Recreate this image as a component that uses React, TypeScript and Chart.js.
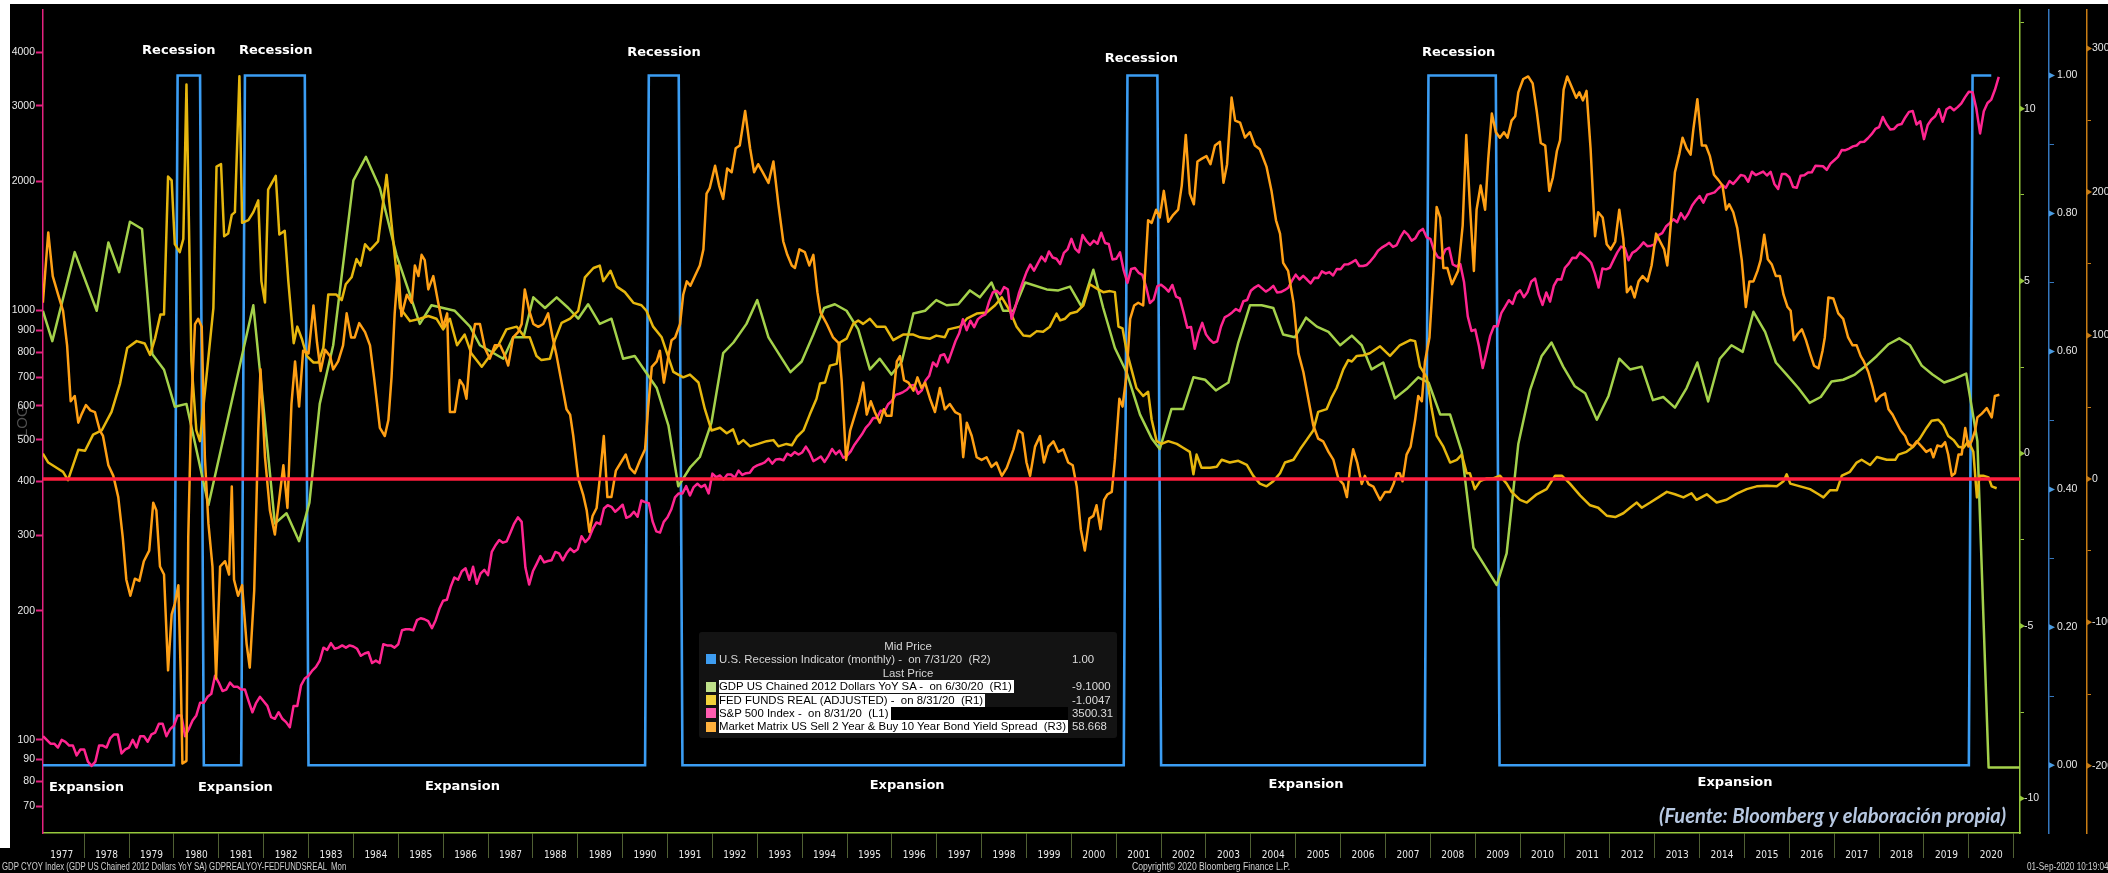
import React, { useEffect, useRef } from 'react';
import { Chart, registerables } from 'chart.js';

Chart.register(...registerables);

// ---------- axis ranges ----------
const X_MIN = 1977.083;
const X_MAX = 2021.14;
const L_MIN = 60.7;
const L_MAX = 5030;
const R1_MIN = -11.0;
const R1_MAX = 12.88;
const R2_MIN = -0.0981;
const R2_MAX = 1.0959;
const R3_MIN = -246.9;
const R3_MAX = 327.4;

// ---------- tick labels ----------
const yearLabels = [1977, 1978, 1979, 1980, 1981, 1982, 1983, 1984, 1985, 1986, 1987, 1988, 1989, 1990, 1991, 1992, 1993, 1994, 1995, 1996, 1997, 1998, 1999, 2000, 2001, 2002, 2003, 2004, 2005, 2006, 2007, 2008, 2009, 2010, 2011, 2012, 2013, 2014, 2015, 2016, 2017, 2018, 2019, 2020];
const leftTicks = [70, 80, 90, 100, 200, 300, 400, 500, 600, 700, 800, 900, 1000, 2000, 3000, 4000];
const r1Ticks = [-10, -7.5, -5, -2.5, 0, 2.5, 5, 7.5, 10, 12.5];
const r1Labels = [-10, -5, 0, 5, 10];
const r2Ticks = [0, 0.1, 0.2, 0.3, 0.4, 0.5, 0.6, 0.7, 0.8, 0.9, 1.0];
const r2Labels = [0, 0.2, 0.4, 0.6, 0.8, 1.0];
const r3Ticks = [-200, -150, -100, -50, 0, 50, 100, 150, 200, 250, 300];
const r3Labels = [-200, -100, 0, 100, 200, 300];

// ---------- series ----------
// U.S. Recession Indicator (R2): change points [decimal year], values 0/1
const recessionDates = [1977.083, 1980.0, 1980.083, 1980.583, 1980.667, 1981.5, 1981.583, 1982.917, 1983.0, 1990.5, 1990.583, 1991.25, 1991.333, 2001.167, 2001.25, 2001.917, 2002.0, 2007.875, 2007.958, 2009.458, 2009.542, 2020.0, 2020.083, 2020.5];
const recessionValues = [0, 0, 1, 1, 0, 0, 1, 1, 0, 0, 1, 1, 0, 0, 1, 1, 0, 0, 1, 1, 0, 0, 1, 1];

// GDP US Chained 2012 Dollars YoY SA (R1): [decimal year, %]
const gdpYoY: [number, number][] = [
  [1977.08, 4.14], [1977.29, 3.26], [1977.79, 5.84], [1978.28, 4.14], [1978.54, 6.12], [1978.78, 5.26], [1979.02, 6.72], [1979.29, 6.51],
  [1979.52, 2.88], [1979.78, 2.43], [1980.02, 1.36], [1980.28, 1.44], [1980.77, -1.49], [1981.77, 4.3], [1981.92, 2.36], [1982.25, -2.03],
  [1982.51, -1.73], [1982.79, -2.54], [1983.02, -1.42], [1983.25, 1.44], [1983.55, 3.14], [1984.0, 7.92], [1984.28, 8.6], [1984.59, 7.7],
  [1984.96, 5.76], [1985.48, 3.76], [1985.74, 4.3], [1986.26, 4.14], [1986.6, 3.68], [1986.82, 3.14], [1987.34, 2.75], [1987.56, 3.37],
  [1987.79, 3.37], [1988.01, 4.53], [1988.27, 4.22], [1988.53, 4.53], [1988.79, 4.22], [1989.01, 3.91], [1989.23, 4.33], [1989.49, 3.76],
  [1989.75, 3.91], [1990.01, 2.75], [1990.27, 2.83], [1990.76, 1.9], [1991.02, 0.82], [1991.24, -0.95], [1991.5, -0.41], [1991.72, -0.1],
  [1991.98, 0.9], [1992.24, 2.91], [1992.47, 3.22], [1992.76, 3.76], [1993.0, 4.45], [1993.25, 3.37], [1993.51, 2.83], [1993.74, 2.36],
  [1993.99, 2.67], [1994.25, 3.45], [1994.49, 4.22], [1994.73, 4.33], [1994.99, 4.14], [1995.25, 3.6], [1995.51, 2.44], [1995.73, 2.75],
  [1995.99, 2.29], [1996.22, 2.67], [1996.48, 4.06], [1996.74, 4.14], [1996.99, 4.45], [1997.22, 4.3], [1997.48, 4.33], [1997.74, 4.73],
  [1997.96, 4.53], [1998.22, 4.96], [1998.48, 4.14], [1998.71, 4.14], [1998.97, 4.96], [1999.45, 4.76], [1999.71, 4.73], [1999.97, 4.84],
  [2000.23, 4.25], [2000.49, 5.33], [2000.71, 4.22], [2000.97, 3.06], [2001.23, 2.36], [2001.53, 1.13], [2001.79, 0.44], [2001.97, 0.13],
  [2002.23, 1.29], [2002.49, 1.29], [2002.72, 2.21], [2002.98, 2.14], [2003.22, 1.83], [2003.5, 2.06], [2003.72, 3.22], [2003.98, 4.3],
  [2004.24, 4.3], [2004.5, 4.22], [2004.72, 3.45], [2004.98, 3.37], [2005.23, 3.94], [2005.47, 3.68], [2005.73, 3.53], [2005.99, 3.14],
  [2006.25, 3.42], [2006.47, 3.14], [2006.69, 2.44], [2006.95, 2.64], [2007.21, 1.6], [2007.47, 1.87], [2007.73, 2.21], [2007.96, 2.06],
  [2008.22, 1.13], [2008.44, 1.13], [2008.7, 0.05], [2008.96, -2.73], [2009.22, -3.27], [2009.48, -3.81], [2009.7, -2.89], [2009.96, 0.28],
  [2010.22, 1.83], [2010.48, 2.83], [2010.7, 3.22], [2010.96, 2.52], [2011.22, 1.95], [2011.45, 1.75], [2011.71, 0.98], [2011.97, 1.67],
  [2012.21, 2.75], [2012.45, 2.44], [2012.71, 2.52], [2012.96, 1.55], [2013.19, 1.64], [2013.45, 1.33], [2013.71, 1.9], [2013.95, 2.64],
  [2014.19, 1.51], [2014.45, 2.75], [2014.71, 3.14], [2014.96, 2.95], [2015.2, 4.11], [2015.46, 3.53], [2015.7, 2.64], [2015.94, 2.29],
  [2016.2, 1.9], [2016.45, 1.47], [2016.7, 1.64], [2016.94, 2.09], [2017.2, 2.14], [2017.46, 2.29], [2017.71, 2.55], [2017.95, 2.83],
  [2018.21, 3.17], [2018.45, 3.34], [2018.69, 3.14], [2018.95, 2.55], [2019.19, 2.29], [2019.45, 2.06], [2019.69, 2.17], [2019.94, 2.32],
  [2020.19, 0.36], [2020.44, -9.1], [2021.14, -9.1],
];

// FED FUNDS REAL (ADJUSTED) (R1): [decimal year, %]
const fedFundsReal: [number, number][] = [
  [1977.08, 0.0], [1977.2, -0.26], [1977.42, -0.44], [1977.53, -0.53], [1977.64, -0.77], [1977.87, 0.11], [1978.02, 0.08], [1978.2, 0.55],
  [1978.39, 0.67], [1978.61, 1.21], [1978.8, 2.03], [1978.96, 3.06], [1979.17, 3.26], [1979.35, 3.19], [1979.47, 2.86], [1979.58, 3.34],
  [1979.7, 4.03], [1979.78, 4.03], [1979.87, 8.03], [1979.95, 7.92], [1980.02, 6.07], [1980.13, 5.84], [1980.21, 6.22], [1980.28, 10.7],
  [1980.39, 2.67], [1980.5, 0.67], [1980.58, 0.36], [1980.88, 4.22], [1980.95, 8.32], [1981.05, 8.39], [1981.12, 6.3], [1981.21, 6.38],
  [1981.29, 6.92], [1981.36, 7.0], [1981.46, 10.94], [1981.52, 6.69], [1981.66, 6.77], [1981.77, 7.0], [1981.88, 7.34], [1981.95, 5.0],
  [1982.03, 4.38], [1982.1, 7.65], [1982.27, 8.05], [1982.35, 6.35], [1982.47, 6.46], [1982.55, 5.0], [1982.67, 3.2], [1982.75, 3.68],
  [1982.85, 3.33], [1982.96, 2.83], [1983.11, 2.64], [1983.22, 2.64], [1983.33, 3.06], [1983.44, 4.61], [1983.62, 4.61], [1983.74, 4.45],
  [1983.83, 4.91], [1983.96, 5.11], [1984.07, 5.64], [1984.16, 5.45], [1984.26, 6.07], [1984.37, 5.9], [1984.55, 6.15], [1984.74, 8.08],
  [1985.04, 4.22], [1985.26, 3.84], [1985.48, 3.91], [1985.67, 3.99], [1985.85, 3.91], [1986.0, 3.6], [1986.15, 3.91], [1986.31, 3.14],
  [1986.48, 3.45], [1986.63, 2.9], [1986.86, 2.52], [1987.04, 2.83], [1987.23, 3.14], [1987.41, 3.6], [1987.64, 3.68], [1987.82, 3.37],
  [1987.93, 3.37], [1988.08, 2.83], [1988.19, 2.71], [1988.38, 2.75], [1988.49, 3.29], [1988.64, 3.79], [1988.83, 3.91], [1989.01, 4.14],
  [1989.16, 5.11], [1989.35, 5.38], [1989.49, 5.45], [1989.57, 5.0], [1989.73, 5.3], [1989.87, 4.84], [1990.05, 4.68], [1990.24, 4.37],
  [1990.42, 4.3], [1990.53, 4.14], [1990.68, 3.68], [1990.87, 3.37], [1991.13, 2.37], [1991.35, 2.21], [1991.5, 2.29], [1991.69, 2.06],
  [1991.83, 1.3], [1991.98, 0.67], [1992.17, 0.75], [1992.32, 0.59], [1992.46, 0.7], [1992.58, 0.28], [1992.69, 0.39], [1992.84, 0.21],
  [1993.02, 0.28], [1993.21, 0.36], [1993.36, 0.39], [1993.47, 0.21], [1993.65, 0.28], [1993.77, 0.24], [1993.88, 0.48], [1994.03, 0.67],
  [1994.17, 1.13], [1994.32, 1.59], [1994.4, 2.03], [1994.51, 2.06], [1994.62, 2.55], [1994.77, 2.6], [1994.84, 3.22], [1994.99, 3.33],
  [1995.14, 3.76], [1995.25, 3.86], [1995.36, 3.76], [1995.51, 3.91], [1995.66, 3.68], [1995.85, 3.68], [1996.03, 3.29], [1996.25, 3.45],
  [1996.48, 3.45], [1996.63, 3.37], [1996.85, 3.33], [1996.99, 3.42], [1997.18, 3.37], [1997.26, 3.6], [1997.52, 3.68], [1997.67, 3.91],
  [1997.89, 4.06], [1998.11, 4.09], [1998.3, 4.3], [1998.45, 4.53], [1998.63, 4.14], [1998.78, 3.68], [1998.93, 3.42], [1999.08, 3.4],
  [1999.23, 3.55], [1999.37, 3.53], [1999.52, 3.68], [1999.67, 4.06], [1999.75, 3.86], [1999.86, 3.91], [1999.97, 4.06], [2000.12, 4.11],
  [2000.27, 4.3], [2000.41, 4.91], [2000.56, 4.79], [2000.71, 4.68], [2000.86, 4.71], [2000.97, 4.68], [2001.05, 3.68], [2001.14, 3.63],
  [2001.23, 2.98], [2001.34, 2.44], [2001.45, 1.9], [2001.6, 1.67], [2001.71, 1.79], [2001.79, 0.98], [2001.9, 0.36], [2002.01, 0.28],
  [2002.16, 0.36], [2002.35, 0.28], [2002.49, 0.17], [2002.64, 0.05], [2002.72, -0.6], [2002.79, -0.03], [2002.9, -0.41], [2003.09, -0.41],
  [2003.24, -0.38], [2003.35, -0.18], [2003.53, -0.26], [2003.72, -0.21], [2003.91, -0.33], [2004.05, -0.64], [2004.2, -0.87], [2004.35, -0.95],
  [2004.5, -0.8], [2004.65, -0.57], [2004.76, -0.26], [2004.95, -0.18], [2005.1, 0.13], [2005.24, 0.39], [2005.39, 0.67], [2005.5, 1.21],
  [2005.69, 1.29], [2005.8, 1.63], [2005.91, 1.9], [2006.06, 2.44], [2006.17, 2.71], [2006.25, 2.67], [2006.36, 2.83], [2006.51, 2.85],
  [2006.65, 2.91], [2006.88, 3.11], [2007.1, 2.83], [2007.32, 3.14], [2007.55, 3.29], [2007.66, 3.26], [2007.77, 2.52], [2007.92, 2.21],
  [2008.03, 1.29], [2008.14, 0.52], [2008.29, 0.2], [2008.44, -0.26], [2008.59, -0.18], [2008.7, -0.03], [2008.81, -0.57], [2008.88, -0.57],
  [2008.99, -1.03], [2009.11, -0.8], [2009.26, -0.72], [2009.4, -0.72], [2009.55, -0.64], [2009.7, -0.87], [2009.81, -1.11], [2010.0, -1.34],
  [2010.15, -1.42], [2010.37, -1.18], [2010.59, -1.03], [2010.78, -0.64], [2010.93, -0.64], [2011.11, -0.87], [2011.34, -1.22], [2011.56, -1.5],
  [2011.74, -1.57], [2011.93, -1.8], [2012.12, -1.84], [2012.3, -1.73], [2012.45, -1.57], [2012.6, -1.42], [2012.71, -1.57], [2012.9, -1.42],
  [2013.08, -1.27], [2013.27, -1.11], [2013.45, -1.18], [2013.64, -1.27], [2013.82, -1.15], [2013.93, -1.34], [2014.16, -1.18], [2014.38, -1.42],
  [2014.6, -1.34], [2014.83, -1.16], [2015.05, -1.03], [2015.27, -0.95], [2015.5, -0.93], [2015.72, -0.95], [2015.87, -0.8], [2015.94, -0.6],
  [2016.02, -0.87], [2016.24, -0.95], [2016.46, -1.03], [2016.65, -1.18], [2016.76, -1.27], [2016.91, -1.06], [2017.06, -1.06], [2017.17, -0.64],
  [2017.35, -0.53], [2017.5, -0.26], [2017.61, -0.18], [2017.8, -0.33], [2017.95, -0.1], [2018.17, -0.18], [2018.36, -0.18], [2018.43, -0.03],
  [2018.61, 0.05], [2018.76, 0.2], [2018.91, 0.44], [2019.06, 0.75], [2019.17, 0.95], [2019.32, 0.98], [2019.43, 0.82], [2019.54, 0.51],
  [2019.66, 0.39], [2019.77, 0.2], [2019.88, 0.17], [2019.99, 0.36], [2020.1, 0.05], [2020.18, -1.27], [2020.24, -0.64], [2020.32, -0.64],
  [2020.44, -0.69], [2020.51, -0.95], [2020.62, -1.0047],
];

// S&P 500 Index (L1): month-end closes starting Jan 1977
const spxStartYear = 1977;
const spxMonthly = [
  102, 100, 98, 98, 96, 100, 99, 97, 97, 92, 95, 95,
  89, 87, 89, 97, 97, 96, 101, 103, 103, 93, 95, 96,
  100, 96, 102, 102, 99, 103, 104, 109, 109, 102, 106, 108,
  114, 114, 102, 106, 111, 114, 122, 122, 126, 128, 141, 136,
  130, 131, 136, 133, 133, 131, 131, 123, 116, 122, 126, 123,
  120, 113, 112, 116, 112, 110, 107, 120, 120, 134, 139, 141,
  145, 148, 153, 164, 162, 168, 163, 164, 166, 164, 166, 165,
  163, 157, 159, 160, 151, 153, 151, 167, 166, 166, 164, 167,
  180, 181, 181, 180, 190, 192, 191, 189, 182, 190, 202, 211,
  212, 227, 239, 236, 247, 251, 236, 253, 231, 244, 249, 242,
  274, 284, 292, 288, 290, 304, 319, 330, 322, 252, 230, 247,
  257, 268, 259, 261, 262, 274, 272, 262, 272, 279, 274, 278,
  298, 289, 295, 310, 321, 318, 346, 352, 349, 340, 346, 353,
  329, 332, 340, 331, 361, 358, 356, 323, 306, 304, 322, 330,
  344, 367, 375, 375, 390, 371, 388, 395, 388, 393, 375, 417,
  409, 413, 404, 415, 415, 408, 424, 414, 418, 419, 431, 436,
  439, 443, 452, 440, 450, 451, 448, 464, 459, 468, 462, 467,
  482, 467, 446, 451, 457, 444, 458, 476, 463, 472, 454, 459,
  470, 487, 501, 515, 533, 545, 562, 562, 584, 582, 605, 616,
  636, 640, 646, 654, 669, 671, 640, 652, 687, 705, 757, 741,
  786, 791, 757, 801, 848, 885, 954, 900, 947, 915, 955, 970,
  980, 1049, 1102, 1112, 1091, 1134, 1121, 957, 1017, 1099, 1164, 1229,
  1280, 1238, 1286, 1335, 1302, 1373, 1329, 1320, 1283, 1363, 1389, 1469,
  1394, 1366, 1499, 1452, 1421, 1455, 1431, 1518, 1437, 1429, 1315, 1320,
  1366, 1240, 1160, 1250, 1256, 1224, 1211, 1134, 1041, 1060, 1140, 1148,
  1130, 1107, 1147, 1077, 1067, 990, 912, 916, 815, 886, 936, 880,
  856, 841, 848, 917, 964, 975, 990, 1008, 996, 1051, 1058, 1112,
  1131, 1145, 1126, 1107, 1121, 1141, 1102, 1104, 1115, 1130, 1174, 1212,
  1181, 1204, 1181, 1157, 1192, 1191, 1234, 1220, 1229, 1207, 1250, 1248,
  1280, 1281, 1295, 1311, 1270, 1270, 1277, 1304, 1336, 1378, 1401, 1418,
  1438, 1407, 1421, 1482, 1531, 1503, 1455, 1474, 1527, 1549, 1481, 1468,
  1379, 1331, 1323, 1386, 1400, 1280, 1267, 1283, 1166, 969, 896, 903,
  826, 735, 798, 873, 919, 919, 988, 1021, 1057, 1036, 1096, 1115,
  1074, 1105, 1169, 1187, 1089, 1031, 1102, 1049, 1141, 1183, 1181, 1258,
  1286, 1327, 1326, 1364, 1345, 1321, 1292, 1219, 1131, 1253, 1247, 1258,
  1312, 1366, 1409, 1398, 1310, 1362, 1379, 1407, 1441, 1412, 1416, 1426,
  1498, 1515, 1569, 1598, 1631, 1606, 1686, 1633, 1682, 1757, 1806, 1848,
  1783, 1860, 1872, 1884, 1924, 1960, 1931, 2003, 1972, 2018, 2068, 2059,
  1995, 2105, 2068, 2086, 2107, 2063, 2104, 1972, 1920, 2079, 2080, 2044,
  1940, 1932, 2060, 2065, 2097, 2099, 2174, 2171, 2168, 2126, 2199, 2239,
  2279, 2364, 2363, 2384, 2412, 2423, 2470, 2472, 2519, 2575, 2648, 2674,
  2824, 2714, 2641, 2648, 2705, 2718, 2816, 2902, 2914, 2712, 2760, 2507,
  2704, 2785, 2834, 2946, 2752, 2942, 2980, 2927, 2977, 3038, 3141, 3231,
  3226, 2954, 2585, 2912, 3044, 3100, 3271, 3500.31,
];

// Market Matrix US Sell 2 Year & Buy 10 Year Bond Yield Spread (R3): [decimal year, bp]
const spread2s10s: [number, number][] = [
  [1977.08, 122.8], [1977.2, 171.8], [1977.3, 141.4], [1977.42, 128.4], [1977.53, 117.2], [1977.62, 93.1], [1977.7, 54.1], [1977.79, 57.8],
  [1977.87, 39.2], [1977.94, 44.8], [1978.04, 51.5], [1978.14, 47.8], [1978.24, 46.6], [1978.35, 33.7], [1978.42, 29.9], [1978.54, 9.5],
  [1978.65, 2.1], [1978.76, -12.7], [1978.86, -40.6], [1978.94, -70.3], [1979.03, -81.5], [1979.13, -69.6], [1979.23, -71.1], [1979.33, -57.4],
  [1979.45, -50], [1979.54, -16.6], [1979.61, -22.1], [1979.69, -61.1], [1979.78, -66.7], [1979.87, -133.5], [1979.95, -94.5], [1980.02, -87.1],
  [1980.1, -74.1], [1980.15, -133.5], [1980.19, -198.5], [1980.28, -196.6], [1980.32, -40.6], [1980.39, 52.2], [1980.47, 107.9], [1980.54, 111.6],
  [1980.62, 106.0], [1980.69, 15.1], [1980.77, -31.4], [1980.86, -61.1], [1980.94, -139.1], [1981.03, -61.1], [1981.14, -57.4], [1981.23, -66.7],
  [1981.29, -5.4], [1981.34, -70.3], [1981.43, -81.5], [1981.52, -74.1], [1981.62, -115], [1981.69, -131.6], [1981.79, -77.8], [1981.88, 33.7],
  [1981.93, 76.4], [1982.03, 15.1], [1982.14, -22.1], [1982.25, -38.8], [1982.36, -10.9], [1982.44, 9.5], [1982.53, -20.3], [1982.62, 52.2],
  [1982.7, 81.9], [1982.79, 50.4], [1982.88, 89.4], [1983.0, 87.5], [1983.11, 120.9], [1983.19, 94.9], [1983.27, 75.2], [1983.37, 90.0],
  [1983.48, 85.6], [1983.55, 76.3], [1983.66, 81.9], [1983.77, 93.1], [1983.85, 115.4], [1983.95, 98.6], [1984.03, 98.6], [1984.13, 108.6],
  [1984.26, 102.3], [1984.37, 93.1], [1984.46, 70.8], [1984.59, 35.5], [1984.7, 29.9], [1984.78, 41.0], [1984.85, 70.8], [1984.92, 115.4],
  [1985.0, 148.8], [1985.07, 113.5], [1985.19, 128.4], [1985.3, 122.8], [1985.37, 148.8], [1985.45, 141.4], [1985.52, 156.2], [1985.59, 152.5],
  [1985.67, 132.1], [1985.78, 141.4], [1985.89, 122.8], [1986.0, 106.0], [1986.09, 115.4], [1986.15, 46.6], [1986.26, 46.6], [1986.37, 68.9],
  [1986.45, 65.2], [1986.52, 55.9], [1986.61, 89.4], [1986.71, 108.0], [1986.82, 108.0], [1986.93, 91.2], [1987.04, 83.8], [1987.15, 93.1],
  [1987.27, 93.1], [1987.38, 85.6], [1987.45, 79.0], [1987.56, 98.6], [1987.67, 102.3], [1987.75, 108.0], [1987.82, 132.1], [1987.92, 117.2],
  [1988.01, 108.0], [1988.12, 106.0], [1988.23, 108.0], [1988.34, 115.4], [1988.44, 98.6], [1988.53, 85.6], [1988.64, 67.1], [1988.75, 48.5],
  [1988.83, 44.8], [1988.9, 29.9], [1989.01, 0.2], [1989.12, -10.9], [1989.2, -22.1], [1989.26, -37.0], [1989.33, -25.9], [1989.42, -20.3],
  [1989.49, 0.2], [1989.58, 29.9], [1989.66, -12.7], [1989.75, -12.7], [1989.85, 5.8], [1989.96, 11.4], [1990.07, 17.0], [1990.16, 7.7],
  [1990.27, 3.9], [1990.39, 13.2], [1990.5, 20.6], [1990.57, 50.4], [1990.65, 78.1], [1990.76, 81.9], [1990.83, 89.4], [1990.92, 67.1],
  [1991.02, 85.6], [1991.09, 96.7], [1991.17, 98.6], [1991.28, 108.0], [1991.35, 128.4], [1991.43, 137.7], [1991.51, 134.7], [1991.61, 141.4],
  [1991.72, 148.8], [1991.8, 160.0], [1991.87, 198.9], [1991.94, 202.7], [1992.06, 218.3], [1992.15, 204.5], [1992.24, 195.2], [1992.33, 216.4],
  [1992.43, 213.8], [1992.52, 230.5], [1992.61, 232.4], [1992.73, 256.5], [1992.84, 230.5], [1992.93, 213.8], [1993.02, 219.4], [1993.12, 213.8],
  [1993.25, 206.4], [1993.36, 221.3], [1993.47, 191.5], [1993.58, 165.5], [1993.67, 156.2], [1993.77, 148.8], [1993.84, 147.0], [1993.94, 160.0],
  [1994.06, 158.1], [1994.16, 148.8], [1994.25, 156.2], [1994.34, 130.2], [1994.41, 116.1], [1994.55, 108.0], [1994.69, 98.6], [1994.81, 94.9],
  [1994.88, 68.9], [1994.98, 13.2], [1995.07, 33.7], [1995.16, 42.9], [1995.27, 54.1], [1995.36, 67.1], [1995.44, 44.8], [1995.53, 54.1],
  [1995.62, 46.6], [1995.73, 39.2], [1995.82, 48.5], [1995.88, 44.0], [1995.99, 44.0], [1996.11, 81.9], [1996.18, 85.6], [1996.27, 68.9],
  [1996.37, 67.1], [1996.48, 61.5], [1996.57, 70.8], [1996.66, 63.4], [1996.74, 67.1], [1996.85, 55.9], [1996.96, 46.6], [1997.07, 63.4],
  [1997.18, 48.5], [1997.29, 52.2], [1997.41, 46.6], [1997.52, 44.8], [1997.59, 15.1], [1997.67, 39.2], [1997.78, 29.9], [1997.89, 15.1],
  [1998.0, 13.2], [1998.11, 15.1], [1998.22, 8.4], [1998.33, 11.4], [1998.45, 2.1], [1998.56, 7.7], [1998.71, 20.6], [1998.82, 33.7],
  [1998.91, 31.8], [1999.0, 11.4], [1999.08, 2.1], [1999.19, 22.5], [1999.3, 29.9], [1999.39, 11.4], [1999.49, 22.5], [1999.6, 26.2],
  [1999.71, 18.8], [1999.82, 20.6], [1999.93, 11.4], [2000.03, 9.5], [2000.12, -5.4], [2000.21, -35.1], [2000.3, -50.0], [2000.4, -27.7],
  [2000.49, -25.8], [2000.56, -18.4], [2000.65, -35.1], [2000.73, -14.7], [2000.8, -10.9], [2000.9, -9.1], [2000.97, 13.2], [2001.07, 55.9],
  [2001.14, 50.4], [2001.23, 72.6], [2001.31, 111.6], [2001.4, 120.9], [2001.49, 122.8], [2001.6, 120.9], [2001.71, 180.3], [2001.79, 178.5],
  [2001.89, 187.7], [2001.97, 182.2], [2002.06, 200.8], [2002.16, 179.2], [2002.27, 184.1], [2002.38, 187.7], [2002.46, 204.5], [2002.55, 239.8],
  [2002.64, 198.9], [2002.73, 191.5], [2002.81, 221.3], [2002.9, 223.1], [2003.01, 225.0], [2003.1, 219.4], [2003.2, 232.4], [2003.31, 235.0],
  [2003.39, 206.4], [2003.47, 219.4], [2003.57, 265.9], [2003.65, 249.8], [2003.76, 248.4], [2003.87, 238.0], [2003.98, 241.7], [2004.09, 232.4],
  [2004.2, 229.8], [2004.35, 217.5], [2004.46, 200.8], [2004.56, 180.3], [2004.65, 171.0], [2004.72, 150.6], [2004.83, 145.0], [2004.95, 122.8],
  [2005.06, 87.5], [2005.17, 74.5], [2005.28, 55.9], [2005.39, 37.4], [2005.5, 28.1], [2005.61, 26.2], [2005.73, 18.8], [2005.84, 13.2],
  [2005.95, 0.2], [2006.06, -3.6], [2006.14, -12.7], [2006.21, 7.7], [2006.28, 20.6], [2006.37, 11.4], [2006.47, -3.6], [2006.54, 2.1],
  [2006.62, -3.6], [2006.73, -5.4], [2006.88, -14.7], [2006.99, -9.1], [2007.1, -9.1], [2007.18, -3.6], [2007.25, 3.9], [2007.32, 3.9],
  [2007.38, -1.7], [2007.47, 16.9], [2007.56, 22.5], [2007.66, 41.0], [2007.73, 57.8], [2007.81, 54.1], [2007.88, 81.9], [2007.98, 98.6],
  [2008.07, 145.0], [2008.14, 189.6], [2008.22, 182.2], [2008.29, 147.0], [2008.38, 147.0], [2008.48, 135.8], [2008.62, 145.0], [2008.72, 176.6],
  [2008.8, 239.8], [2008.88, 191.5], [2008.97, 145.0], [2009.03, 187.7], [2009.12, 204.5], [2009.22, 187.7], [2009.29, 223.1], [2009.37, 254.7],
  [2009.46, 241.7], [2009.55, 237.9], [2009.64, 241.7], [2009.72, 237.9], [2009.81, 249.8], [2009.89, 252.8], [2009.96, 269.5], [2010.07, 278.8],
  [2010.18, 280.6], [2010.28, 275.8], [2010.37, 256.5], [2010.46, 234.2], [2010.56, 232.4], [2010.65, 200.8], [2010.73, 210.1], [2010.82, 228.6],
  [2010.89, 236.1], [2010.97, 271.4], [2011.05, 280.6], [2011.15, 273.2], [2011.25, 265.7], [2011.32, 269.5], [2011.4, 263.9], [2011.48, 270.5],
  [2011.57, 230.5], [2011.67, 169.2], [2011.74, 185.9], [2011.84, 182.2], [2011.93, 163.6], [2012.02, 160.0], [2012.12, 165.5], [2012.21, 187.7],
  [2012.3, 167.3], [2012.38, 130.2], [2012.47, 134.0], [2012.55, 126.5], [2012.64, 137.7], [2012.73, 141.4], [2012.84, 137.7], [2012.93, 148.8],
  [2013.03, 171.0], [2013.12, 165.5], [2013.21, 160.0], [2013.28, 148.8], [2013.36, 178.5], [2013.45, 213.8], [2013.55, 226.8], [2013.62, 237.9],
  [2013.71, 230.5], [2013.8, 226.1], [2013.86, 243.5], [2013.95, 264.7], [2014.05, 232.4], [2014.14, 232.4], [2014.23, 225], [2014.32, 212],
  [2014.42, 208.3], [2014.51, 204.5], [2014.59, 187.7], [2014.66, 191.5], [2014.75, 185.9], [2014.84, 174.8], [2014.94, 152.5], [2015.03, 119.8],
  [2015.11, 137.7], [2015.2, 137.7], [2015.29, 145.0], [2015.36, 152.5], [2015.44, 170.2], [2015.52, 153.1], [2015.61, 149.4], [2015.7, 141.4],
  [2015.79, 141.4], [2015.87, 128.4], [2015.96, 119.8], [2016.03, 117.2], [2016.1, 96.7], [2016.19, 101.2], [2016.28, 104.2], [2016.37, 96.7],
  [2016.46, 87.5], [2016.55, 78.9], [2016.65, 77.1], [2016.74, 89.4], [2016.79, 98.6], [2016.87, 126.5], [2016.98, 125.8], [2017.09, 115.4],
  [2017.2, 111.6], [2017.31, 98.6], [2017.41, 93.1], [2017.5, 93.1], [2017.59, 85.6], [2017.66, 81.9], [2017.76, 74.5], [2017.86, 63.4],
  [2017.93, 54.1], [2018.03, 57.8], [2018.13, 59.6], [2018.21, 48.5], [2018.3, 44.8], [2018.39, 39.2], [2018.48, 33.7], [2018.58, 29.9],
  [2018.65, 24.4], [2018.75, 22.5], [2018.84, 26.2], [2018.95, 22.5], [2019.05, 18.8], [2019.15, 20.6], [2019.21, 15.1], [2019.3, 23.3],
  [2019.39, 22.5], [2019.47, 25.6], [2019.54, 17.0], [2019.62, 2.1], [2019.69, 3.9], [2019.77, 17.0], [2019.84, 17.0], [2019.92, 35.5],
  [2019.99, 22.5], [2020.06, 26.2], [2020.14, 33.7], [2020.19, 42.9], [2020.29, 45.5], [2020.4, 49.3], [2020.51, 42.9], [2020.58, 57.8],
  [2020.68, 58.668],
];

// ---------- annotations ----------
const recessionLabelX = [1980.11, 1982.27, 1990.92, 2001.56, 2008.63];
const recessionLabelY = [1.036, 1.036, 1.033, 1.024, 1.033];
const expansionLabelX = [1978.05, 1981.37, 1986.43, 1996.34, 2005.23, 2014.79];
const expansionLabelY = [-0.0317, -0.0317, -0.0303, -0.0288, -0.0274, -0.0245];
const sourceNote = '(Fuente: Bloomberg y elaboración propia)';

const legendRows = [
  { header: 'Mid Price', color: '#3d9cf0', label: 'U.S. Recession Indicator (monthly) -  on 7/31/20  (R2)', value: '1.00', hl: false, black: 0 },
  { header: 'Last Price', color: '#bfe08a', label: 'GDP US Chained 2012 Dollars YoY SA -  on 6/30/20  (R1)', value: '-9.1000', hl: true, black: 0 },
  { header: '', color: '#f2d23a', label: 'FED FUNDS REAL (ADJUSTED) -  on 8/31/20  (R1)', value: '-1.0047', hl: true, black: 0 },
  { header: '', color: '#ff5cb0', label: 'S&P 500 Index -  on 8/31/20  (L1)', value: '3500.31', hl: true, black: 1 },
  { header: '', color: '#ffb13d', label: 'Market Matrix US Sell 2 Year & Buy 10 Year Bond Yield Spread  (R3)', value: '58.668', hl: true, black: 0 },
];

const footerLeft = 'GDP CYOY Index (GDP US Chained 2012 Dollars YoY SA) GDPREALYOY-FEDFUNDSREAL  Mon';
const footerMid = 'Copyright© 2020 Bloomberg Finance L.P.';
const footerRight = '01-Sep-2020 10:19:04';

// ---------- styles ----------
const C_BLUE = '#3b9df3';
const C_GREEN = '#a4d14b';
const C_YELLOW = '#e6b70e';
const C_PINK = '#ff2590';
const C_ORANGE = '#ffa015';
const C_RED = '#ff1e3e';
const AX_PINK = '#e4227f';
const AX_GREEN = '#96c83c';
const AX_BLUE = '#3577bd';
const AX_ORANGE = '#c97d14';
const TICK_TXT = '#e8e8e8';

const isIn = (arr: number[], v: number) => arr.some((a) => Math.abs(a - v) < 1e-6);

const pts = (arr: [number, number][]) => arr.map(([x, y]) => ({ x, y }));

const bgPlugin = {
  id: 'bg',
  beforeDraw(chart: any) {
    const { ctx, width, height } = chart;
    ctx.save();
    ctx.fillStyle = '#000';
    ctx.fillRect(0, 0, width, height);
    ctx.fillStyle = '#ffffff';
    ctx.fillRect(0, 0, width, 4);
    ctx.fillRect(0, 0, 10, 848);
    ctx.restore();
  },
};

const markerPlugin = {
  id: 'markers',
  afterDraw(chart: any) {
    const ctx = chart.ctx;
    const defs: [string, number[], string, number][] = [
      ['yR1', r1Labels, AX_GREEN, 4],
      ['yR2', r2Labels, '#4a9be0', 5],
      ['yR3', r3Labels, AX_ORANGE, 4],
    ];
    ctx.save();
    defs.forEach(([id, labels, color, len]) => {
      const s = chart.scales[id];
      ctx.fillStyle = color;
      labels.forEach((v) => {
        const y = s.getPixelForValue(v);
        ctx.beginPath();
        ctx.moveTo(s.left, y - 3);
        ctx.lineTo(s.left + len + 1, y);
        ctx.lineTo(s.left, y + 3);
        ctx.closePath();
        ctx.fill();
      });
    });
    ctx.restore();
  },
};

const annotationPlugin = {
  id: 'annotations',
  afterDatasetsDraw(chart: any) {
    const ctx = chart.ctx;
    const xs = chart.scales.x;
    const r2 = chart.scales.yR2;
    ctx.save();
    ctx.fillStyle = '#ffffff';
    ctx.font = 'bold 13px "DejaVu Sans"';
    ctx.textAlign = 'center';
    ctx.textBaseline = 'middle';
    recessionLabelX.forEach((yr, i) => {
      ctx.fillText('Recession', xs.getPixelForValue(yr), r2.getPixelForValue(recessionLabelY[i]));
    });
    expansionLabelX.forEach((yr, i) => {
      ctx.fillText('Expansion', xs.getPixelForValue(yr), r2.getPixelForValue(expansionLabelY[i]));
    });
    // source note, fitted to the reference width
    ctx.font = 'italic bold 19px Lato';
    const w = ctx.measureText(sourceNote).width;
    const size = (19 * 347) / w;
    ctx.font = `italic bold ${size.toFixed(2)}px Lato`;
    ctx.fillStyle = '#b6c7e0';
    ctx.textAlign = 'right';
    ctx.fillText(sourceNote, chart.chartArea.right - 14, chart.chartArea.bottom - 16);
    ctx.restore();
  },
};

export default function App() {
  const ref = useRef<HTMLCanvasElement | null>(null);

  useEffect(() => {
    document.body.style.margin = '0';
    document.body.style.background = '#000';
    const canvas = ref.current;
    if (!canvas) return;

    const line = (extra: any) => ({
      type: 'line',
      pointRadius: 0,
      borderWidth: 2.5,
      tension: 0,
      fill: false,
      borderJoinStyle: 'round',
      ...extra,
    });

    const chart = new Chart(canvas, {
      type: 'line',
      data: {
        datasets: [
          line({ label: 'zero', data: [{ x: X_MIN, y: 0 }, { x: X_MAX, y: 0 }], borderColor: C_RED, borderWidth: 3.5, yAxisID: 'yR3', order: 0 }),
          line({ label: 'spread', data: pts(spread2s10s), borderColor: C_ORANGE, yAxisID: 'yR3', order: 1 }),
          line({ label: 'spx', data: spxMonthly.map((v, i) => ({ x: spxStartYear + (i + 1) / 12, y: v })), borderColor: C_PINK, yAxisID: 'yL', order: 2 }),
          line({ label: 'fed', data: pts(fedFundsReal), borderColor: C_YELLOW, yAxisID: 'yR1', order: 3 }),
          line({ label: 'gdp', data: pts(gdpYoY), borderColor: C_GREEN, yAxisID: 'yR1', order: 4 }),
          line({ label: 'recession', data: recessionDates.map((x, i) => ({ x, y: recessionValues[i] })), borderColor: C_BLUE, borderWidth: 2.6, borderJoinStyle: 'miter', yAxisID: 'yR2', order: 5 }),
        ],
      },
      options: {
        responsive: false,
        animation: false,
        devicePixelRatio: 1,
        events: [],
        layout: { padding: { top: 5, left: 0, right: 0, bottom: 0 }, autoPadding: false },
        plugins: { legend: { display: false }, tooltip: { enabled: false }, title: { display: false } },
        scales: {
          x: {
            type: 'linear',
            position: 'bottom',
            min: X_MIN,
            max: X_MAX,
            afterFit: (s: any) => { s.height = 40; },
            afterBuildTicks: (s: any) => { s.ticks = yearLabels.map((y) => ({ value: y + 0.5 })); },
            border: { display: true, color: AX_GREEN, width: 1.5 },
            grid: { offset: true, drawOnChartArea: false, drawTicks: true, tickLength: 25, tickColor: '#4f5f33', tickWidth: 1 },
            ticks: {
              autoSkip: false, maxRotation: 0, minRotation: 0, padding: -9, color: TICK_TXT,
              font: { family: '"DejaVu Sans Condensed"', size: 10 },
              callback: (v: any) => String(Math.floor(Number(v))),
            },
          },
          yL: {
            type: 'logarithmic',
            position: 'left',
            min: L_MIN,
            max: L_MAX,
            afterFit: (s: any) => { s.width = 43; },
            afterBuildTicks: (s: any) => { s.ticks = leftTicks.map((v) => ({ value: v })); },
            border: { display: true, color: AX_PINK, width: 1.5 },
            grid: { drawOnChartArea: false, drawTicks: true, tickLength: 7, tickColor: AX_PINK, tickWidth: 2 },
            title: { display: true, text: 'LOG', color: '#4f4f4f', font: { family: '"Liberation Sans"', size: 15 }, padding: { top: 14, bottom: 0 } },
            ticks: { padding: 1, color: TICK_TXT, font: { family: '"Liberation Sans"', size: 10.5 }, autoSkip: false, callback: (v: any) => String(v) },
          },
          yR1: {
            type: 'linear',
            position: 'right',
            weight: 0,
            min: R1_MIN,
            max: R1_MAX,
            afterFit: (s: any) => { s.width = 29; },
            afterBuildTicks: (s: any) => { s.ticks = r1Ticks.map((v) => ({ value: v })); },
            border: { display: true, color: AX_GREEN, width: 1.5 },
            grid: {
              drawOnChartArea: false, drawTicks: true, tickLength: 4, tickWidth: 1,
              tickColor: (c: any) => (isIn(r1Labels, c.tick?.value) ? 'rgba(0,0,0,0)' : AX_GREEN),
            },
            ticks: {
              padding: 0, color: TICK_TXT, font: { family: '"Liberation Sans"', size: 10.5 }, autoSkip: false,
              callback: (v: any) => (isIn(r1Labels, Number(v)) ? String(v) : ''),
            },
          },
          yR2: {
            type: 'linear',
            position: 'right',
            weight: 1,
            min: R2_MIN,
            max: R2_MAX,
            afterFit: (s: any) => { s.width = 38; },
            afterBuildTicks: (s: any) => { s.ticks = r2Ticks.map((v) => ({ value: v })); },
            border: { display: true, color: AX_BLUE, width: 1.5 },
            grid: {
              drawOnChartArea: false, drawTicks: true, tickLength: 5, tickWidth: 1,
              tickColor: (c: any) => (isIn(r2Labels, c.tick?.value) ? 'rgba(0,0,0,0)' : AX_BLUE),
            },
            ticks: {
              padding: 3, color: TICK_TXT, font: { family: '"Liberation Sans"', size: 10.5 }, autoSkip: false,
              callback: (v: any) => (isIn(r2Labels, Number(v)) ? Number(v).toFixed(2) : ''),
            },
          },
          yR3: {
            type: 'linear',
            position: 'right',
            weight: 2,
            min: R3_MIN,
            max: R3_MAX,
            afterFit: (s: any) => { s.width = 21; },
            afterBuildTicks: (s: any) => { s.ticks = r3Ticks.map((v) => ({ value: v })); },
            border: { display: true, color: AX_ORANGE, width: 1.5 },
            grid: {
              drawOnChartArea: false, drawTicks: true, tickLength: 4, tickWidth: 1,
              tickColor: (c: any) => (isIn(r3Labels, c.tick?.value) ? 'rgba(0,0,0,0)' : AX_ORANGE),
            },
            ticks: {
              padding: 1, color: TICK_TXT, font: { family: '"Liberation Sans"', size: 10.5 }, autoSkip: false,
              callback: (v: any) => (isIn(r3Labels, Number(v)) ? String(v) : ''),
            },
          },
        },
      },
      plugins: [bgPlugin, annotationPlugin, markerPlugin],
    } as any);

    return () => chart.destroy();
  }, []);

  const rowCenters = [27, 54.7, 68, 81.3, 94.7];
  const headerCenters = [14, 41];

  return (
    <div style={{ position: 'relative', width: 2108, height: 873, background: '#000', overflow: 'hidden' }}>
      <canvas ref={ref} width={2108} height={873} style={{ display: 'block', width: 2108, height: 873 }} />

      <div
        style={{
          position: 'absolute', left: 699, top: 632, width: 418, height: 106, background: '#131313', borderRadius: 3,
          fontFamily: '"Liberation Sans", Arial, sans-serif', fontSize: 11.4, color: '#d6d6d6', whiteSpace: 'pre',
        }}
      >
        {legendRows.filter((r) => r.header).map((r, i) => (
          <div key={'h' + i} style={{ position: 'absolute', left: 0, width: 418, top: headerCenters[i] - 7, height: 14, lineHeight: '14px', textAlign: 'center' }}>
            {r.header}
          </div>
        ))}
        {legendRows.map((r, i) => (
          <div key={i} style={{ position: 'absolute', left: 0, top: rowCenters[i] - 6.5, height: 13, width: 418 }}>
            <div style={{ position: 'absolute', left: 7, top: 1.5, width: 10, height: 10, background: r.color }} />
            {r.black ? <div style={{ position: 'absolute', left: 20, width: 349, top: 0, height: 13, background: '#000' }} /> : null}
            <span
              style={{
                position: 'absolute', left: 20, top: 0, height: 13, lineHeight: '13px', paddingRight: 2,
                background: r.hl ? '#ffffff' : 'transparent', color: r.hl ? '#000' : '#d6d6d6',
              }}
            >
              {r.label}
            </span>
            <span style={{ position: 'absolute', left: 373, top: 0, lineHeight: '13px', color: '#dcdcdc' }}>{r.value}</span>
          </div>
        ))}
      </div>

      <div style={{ position: 'absolute', left: 2, top: 861, height: 12, lineHeight: '12px', fontFamily: '"Liberation Sans"', fontSize: 10, color: '#cfcfcf', whiteSpace: 'pre', transform: 'scaleX(0.78)', transformOrigin: 'left center' }}>
        {footerLeft}
      </div>
      <div style={{ position: 'absolute', left: 1132, top: 861, height: 12, lineHeight: '12px', fontFamily: '"Liberation Sans"', fontSize: 10, color: '#cfcfcf', whiteSpace: 'pre', transform: 'scaleX(0.86)', transformOrigin: 'left center' }}>
        {footerMid}
      </div>
      <div style={{ position: 'absolute', left: 2027, top: 861, height: 12, lineHeight: '12px', fontFamily: '"Liberation Sans"', fontSize: 10, color: '#cfcfcf', whiteSpace: 'pre', transform: 'scaleX(0.82)', transformOrigin: 'left center' }}>
        {footerRight}
      </div>
    </div>
  );
}
